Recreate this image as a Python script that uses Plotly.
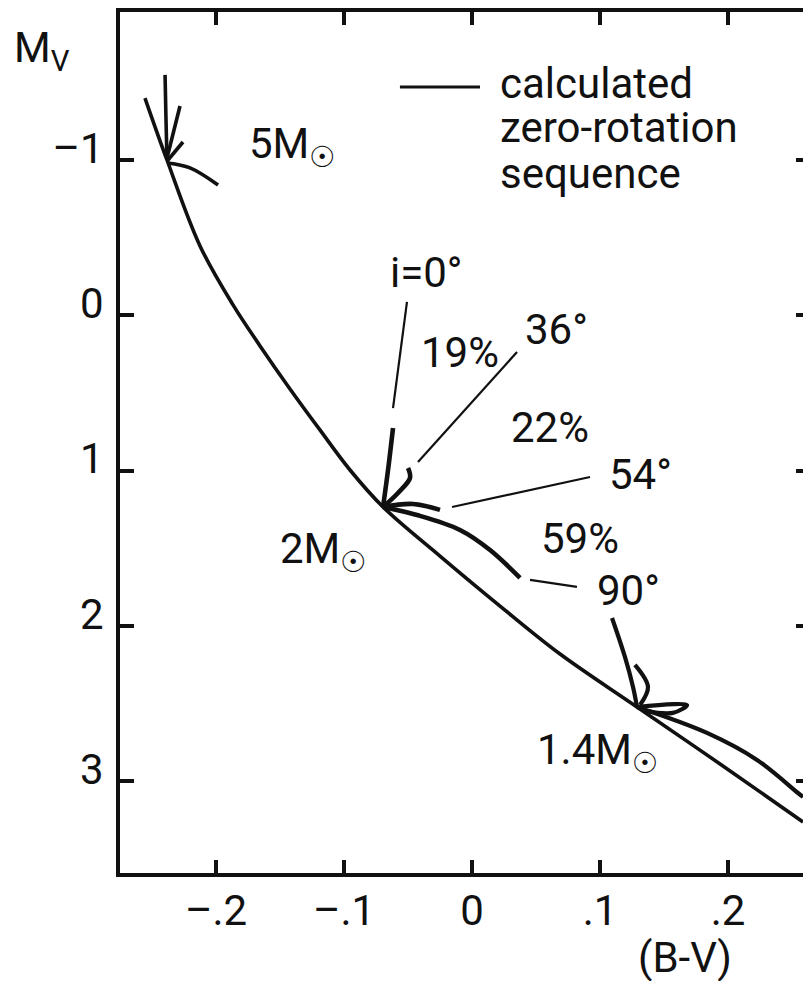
import plotly.graph_objects as go

# ---------------- data (B-V, M_V) ----------------
# calculated zero-rotation sequence
seq_bv = [-0.2555, -0.2383, -0.2125, -0.1867, -0.1656, -0.1422, -0.1188,
          -0.0953, -0.0695, -0.0250, 0.0219, 0.0688, 0.1289, 0.1938, 0.2586]
seq_mv = [-1.400, -1.001, -0.448, -0.068, 0.196, 0.473, 0.737,
          0.995, 1.233, 1.549, 1.871, 2.180, 2.521, 2.888, 3.261]

# 5 Msun tracks
m5_a_bv = [-0.2398, -0.2391, -0.2383]
m5_a_mv = [-1.549, -1.275, -1.001]
m5_b_bv = [-0.2281, -0.2383]
m5_b_mv = [-1.349, -1.014]
m5_c_bv = [-0.2258, -0.2375]
m5_c_mv = [-1.117, -1.001]
m5_d_bv = [-0.2375, -0.2203, -0.1984]
m5_d_mv = [-0.982, -0.950, -0.840]

# 2 Msun tracks
m2_i0_bv = [-0.0617, -0.0656, -0.0695]
m2_i0_mv = [0.724, 0.995, 1.233]
m2_i36_bv = [-0.0500, -0.0484, -0.0578, -0.0695]
m2_i36_mv = [0.982, 1.046, 1.143, 1.233]
m2_i54_bv = [-0.0695, -0.0461, -0.0250]
m2_i54_mv = [1.233, 1.214, 1.252]
m2_i90_bv = [-0.0695, -0.0430, -0.0094, 0.0141, 0.0375]
m2_i90_mv = [1.233, 1.285, 1.381, 1.510, 1.690]

# 1.4 Msun tracks
m14_i90_bv = [0.1094, 0.1195, 0.1258, 0.1289]
m14_i90_mv = [1.948, 2.199, 2.392, 2.521]
m14_hook_bv = [0.1273, 0.1375, 0.1313]
m14_hook_mv = [2.250, 2.392, 2.508]
m14_arrow_bv = [0.1289, 0.1680, 0.1570, 0.1352]
m14_arrow_mv = [2.521, 2.508, 2.559, 2.546]
m14_low_bv = [0.1289, 0.1836, 0.2227, 0.2547, 0.2586]
m14_low_mv = [2.521, 2.688, 2.862, 3.075, 3.100]

# leader lines for the inclination labels
lead_i0_bv = [-0.0508, -0.0617]
lead_i0_mv = [-0.087, 0.596]
lead_36_bv = [-0.0422, 0.0352]
lead_36_mv = [0.943, 0.235]
lead_54_bv = [-0.0156, 0.0922]
lead_54_mv = [1.233, 1.040]
lead_90_bv = [0.0453, 0.0820]
lead_90_mv = [1.703, 1.748]

x_tickvals = [-0.2, -0.1, 0.0, 0.1, 0.2]
x_ticktext = ["\u2013.2", "\u2013.1", "0", ".1", ".2"]
y_tickvals = [-1, 0, 1, 2, 3]
y_ticktext = ["\u20131", "0", "1", "2", "3"]

FONT = "Roboto, DejaVu Sans, sans-serif"
FS = 42
INK = "#111111"

fig = go.Figure()

def add_line(xs, ys, w):
    fig.add_trace(go.Scatter(x=xs, y=ys, mode="lines",
                             line=dict(color=INK, width=w, shape="spline", smoothing=1.0),
                             showlegend=False, hoverinfo="skip"))

add_line(seq_bv, seq_mv, 3.6)
for xs, ys in [(m5_a_bv, m5_a_mv), (m5_b_bv, m5_b_mv), (m5_c_bv, m5_c_mv), (m5_d_bv, m5_d_mv)]:
    add_line(xs, ys, 3.6)
for xs, ys in [(m2_i0_bv, m2_i0_mv), (m2_i36_bv, m2_i36_mv), (m2_i54_bv, m2_i54_mv),
               (m2_i90_bv, m2_i90_mv)]:
    add_line(xs, ys, 4.6)
for xs, ys in [(m14_i90_bv, m14_i90_mv), (m14_hook_bv, m14_hook_mv),
               (m14_arrow_bv, m14_arrow_mv), (m14_low_bv, m14_low_mv)]:
    add_line(xs, ys, 4.2)
for xs, ys in [(lead_i0_bv, lead_i0_mv), (lead_36_bv, lead_36_mv),
               (lead_54_bv, lead_54_mv), (lead_90_bv, lead_90_mv)]:
    add_line(xs, ys, 2.2)

# invisible carrier trace so the right-hand tick axis is drawn
fig.add_trace(go.Scatter(x=seq_bv, y=seq_mv, xaxis="x", yaxis="y2", mode="lines",
                         line=dict(width=0, color="rgba(0,0,0,0)"),
                         showlegend=False, hoverinfo="skip"))

XR = [-0.275, 0.2586]
YR = [3.59, -1.954]

# inward tick marks on the top frame, placed at the x tick values
for v in x_tickvals:
    fig.add_shape(type="line", xref="x", yref="paper", ysizemode="pixel", yanchor=1,
                  x0=v, x1=v, y0=0, y1=-13, line=dict(color=INK, width=4))

# text labels inside the plot (data coordinates)
labels = [
    ("5M<sub>\u2609</sub>", -0.1758, -1.09, "left"),
    ("2M<sub>\u2609</sub>", -0.1516, 1.52, "left"),
    ("1.4M<sub>\u2609</sub>", 0.0492, 2.815, "left"),
    ("i=0\u00b0", -0.0656, -0.274, "left"),
    ("19%", -0.0094, 0.241, "center"),
    ("36\u00b0", 0.0398, 0.093, "left"),
    ("22%", 0.0609, 0.724, "center"),
    ("54\u00b0", 0.1055, 1.027, "left"),
    ("59%", 0.0844, 1.439, "center"),
    ("90\u00b0", 0.0961, 1.768, "left"),
]
for txt, x, y, xa in labels:
    fig.add_annotation(x=x, y=y, xref="x", yref="y", text=txt, showarrow=False,
                       xanchor=xa, yanchor="middle",
                       font=dict(family=FONT, size=FS, color=INK))

# legend key
legend_lines = ["calculated", "zero-rotation", "sequence"]
legend_y = [-1.492, -1.212, -0.912]
for txt, y in zip(legend_lines, legend_y):
    fig.add_annotation(x=0.0203, y=y, xref="x", yref="y", text=txt, showarrow=False,
                       xanchor="left", yanchor="middle",
                       font=dict(family=FONT, size=FS, color=INK))
fig.add_shape(type="line", xref="x", yref="y", x0=-0.0563, x1=0.00625, y0=-1.471, y1=-1.471,
              line=dict(color=INK, width=3.2))

# axis titles
fig.add_annotation(x=-0.158, y=0.99, xref="paper", yref="paper", text="M<sub>V</sub>",
                   showarrow=False, xanchor="left", yanchor="top",
                   font=dict(family=FONT, size=FS, color=INK))
fig.add_annotation(x=0.827, y=-0.0976, xref="paper", yref="paper", text="(B-V)",
                   showarrow=False, xanchor="center", yanchor="middle",
                   font=dict(family=FONT, size=FS, color=INK))

tick_common = dict(showgrid=False, zeroline=False, tickcolor=INK, tickwidth=4)
fig.update_layout(
    width=803, height=981,
    margin=dict(l=120, r=0, t=12, b=108, pad=0),
    paper_bgcolor="white", plot_bgcolor="white",
    showlegend=False,
    xaxis=dict(range=XR, tickvals=x_tickvals, ticktext=x_ticktext,
               showline=True, linewidth=4, linecolor=INK, mirror=True,
               ticks="inside", ticklen=13, ticklabelstandoff=-2,
               tickfont=dict(family=FONT, size=FS, color=INK), **tick_common),
    yaxis=dict(range=YR, tickvals=y_tickvals, ticktext=y_ticktext,
               showline=True, linewidth=4, linecolor=INK,
               ticks="inside", ticklen=14, ticklabelstandoff=4, ticklabelshift=12,
               tickfont=dict(family=FONT, size=FS, color=INK), **tick_common),
    yaxis2=dict(range=YR, tickvals=y_tickvals, overlaying="y", side="right", anchor="x",
                showline=False, showticklabels=False, ticks="inside", ticklen=7,
                **tick_common),
)

fig.write_html("out.html")
